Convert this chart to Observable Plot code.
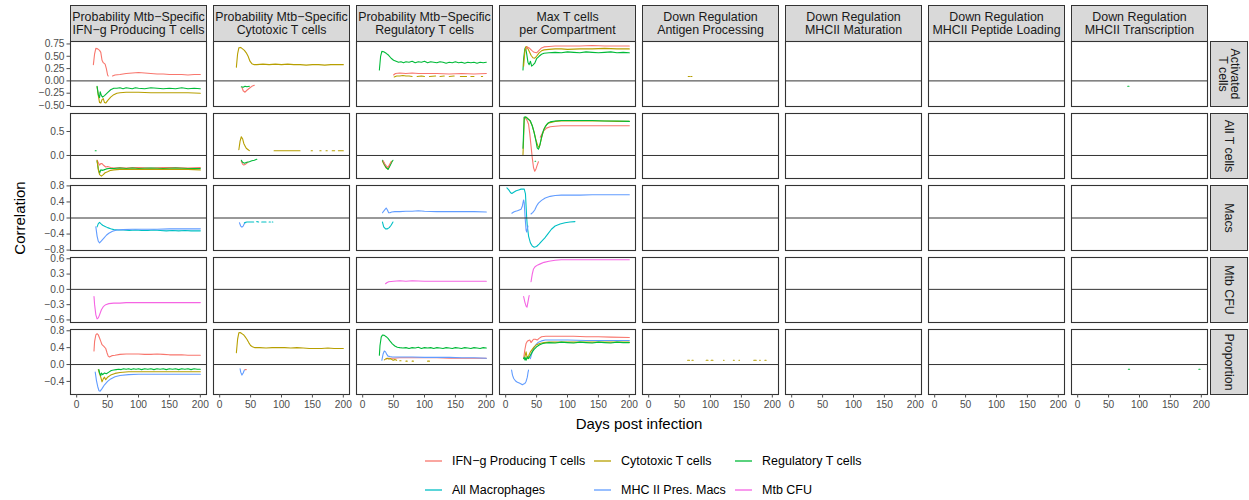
<!DOCTYPE html>
<html>
<head>
<meta charset="utf-8">
<script src="https://cdn.jsdelivr.net/npm/d3@7"></script>
<script src="https://cdn.jsdelivr.net/npm/@observablehq/plot@0.6"></script>
<style>
  body { margin: 0; background: #fff; font-family: "Liberation Sans", Arial, sans-serif; }
  #chart { position: relative; width: 1249px; height: 500px; overflow: hidden; }
  .abs { position: absolute; }
</style>
</head>
<body>
<div id="chart"></div>
<script>
// ---------- categories ----------
const columns = [
  "Probability Mtb−Specific\nIFN−g Producing T cells",
  "Probability Mtb−Specific\nCytotoxic T cells",
  "Probability Mtb−Specific\nRegulatory T cells",
  "Max T cells\nper Compartment",
  "Down Regulation\nAntigen Processing",
  "Down Regulation\nMHCII Maturation",
  "Down Regulation\nMHCII Peptide Loading",
  "Down Regulation\nMHCII Transcription"
];
const rows = ["Activated\nT cells", "All T cells", "Macs", "Mtb CFU", "Proportion"];
const seriesNames = ["IFN−g Producing T cells", "Cytotoxic T cells", "Regulatory T cells",
                     "All Macrophages", "MHC II Pres. Macs", "Mtb CFU"];
const seriesColors = ["#F8766D", "#B79F00", "#00BA38", "#00BFC4", "#619CFF", "#F564E3"];

// ---------- tick labels ----------
const xTicks = [0, 50, 100, 150, 200];
const yTicksActivated = [-0.5, -0.25, 0, 0.25, 0.5, 0.75];
const yTicksAllT = [0, 0.5];
const yTicksMacs = [-0.8, -0.4, 0, 0.4, 0.8];
const yTicksCFU = [-0.6, -0.3, 0, 0.3, 0.6];
const yTicksProp = [-0.4, 0, 0.4, 0.8];

// ---------- series values: [day, correlation] ----------
// Row: Activated T cells
const act_ifngP_ifng = [[27,0.33],[29,0.55],[31,0.66],[34,0.65],[37,0.62],[39,0.58],[41,0.42],[43,0.37],[46,0.34],[48,0.25],[50,0.12],[51,0.1],[54,null],[58,0.1],[62,0.12],[70,0.13],[80,0.15],[90,0.16],[100,0.17],[110,0.16],[120,0.15],[130,0.14],[140,0.14],[150,0.13],[160,0.13],[170,0.13],[180,0.12],[190,0.13],[200,0.13]];
const act_ifngP_cyto = [[33,-0.12],[35,-0.3],[37,-0.44],[39,-0.45],[41,-0.38],[43,-0.36],[45,-0.44],[47,-0.45],[50,-0.4],[55,-0.33],[60,-0.28],[65,-0.25],[70,-0.24],[80,-0.23],[90,-0.23],[100,-0.23],[120,-0.24],[140,-0.24],[160,-0.24],[180,-0.24],[200,-0.25]];
const act_ifngP_reg = [[33,-0.11],[35,-0.28],[37,-0.34],[38,-0.22],[40,-0.3],[42,-0.33],[45,-0.3],[50,-0.24],[55,-0.18],[60,-0.15],[65,-0.15],[70,-0.14],[75,-0.16],[80,-0.14],[85,-0.15],[90,-0.16],[95,-0.14],[100,-0.15],[110,-0.16],[120,-0.14],[130,-0.15],[140,-0.16],[150,-0.15],[160,-0.16],[170,-0.14],[180,-0.16],[190,-0.15],[200,-0.16]];
const act_cytoP_cyto = [[27,0.28],[29,0.55],[31,0.67],[34,0.68],[37,0.65],[40,0.62],[43,0.57],[46,0.5],[49,0.4],[52,0.35],[56,0.33],[60,0.33],[70,0.34],[80,0.33],[90,0.34],[100,0.33],[110,0.34],[120,0.33],[130,0.33],[140,0.32],[150,0.33],[160,0.33],[170,0.32],[180,0.33],[190,0.33],[200,0.33]];
const act_cytoP_ifng = [[36,-0.13],[38,-0.2],[41,-0.23],[44,-0.19],[48,-0.15],[52,-0.11],[56,-0.09]];
const act_cytoP_reg = [[35,-0.12],[38,-0.13],[41,-0.11],[44,-0.12],[48,-0.11]];
const act_regP_reg = [[27,0.22],[29,0.5],[31,0.6],[34,0.59],[38,0.56],[42,0.52],[46,0.46],[50,0.42],[54,0.4],[58,0.38],[62,0.39],[66,0.37],[70,0.39],[75,0.38],[80,0.4],[85,0.37],[90,0.39],[95,0.38],[100,0.4],[105,0.37],[110,0.39],[115,0.38],[120,0.37],[125,0.39],[130,0.38],[135,0.36],[140,0.38],[145,0.37],[150,0.39],[155,0.37],[160,0.38],[165,0.36],[170,0.38],[175,0.37],[180,0.38],[185,0.36],[190,0.38],[195,0.37],[200,0.38]];
const act_regP_ifng = [[50,0.12],[53,0.15],[60,0.16],[70,0.15],[80,0.16],[90,0.15],[100,0.15],[120,0.15],[140,0.14],[160,0.15],[180,0.14],[200,0.15]];
const act_regP_cyto = [[51,0.08],[55,0.1],[60,0.1],[65,0.11],[70,0.1],[75,0.1],[80,0.09],[85,null],[88,0.09],[95,0.1],[100,0.09],[105,null],[108,0.09],[118,0.1],[122,null],[125,0.09],[132,0.1],[136,null],[140,0.09],[148,0.1],[152,null],[158,0.09],[168,0.09],[172,null],[175,0.09],[180,0.09],[184,null],[192,0.09],[194,0.09]];
const act_max_reg = [[28,0.22],[29,0.45],[31,0.65],[32,0.68],[34,0.55],[36,0.38],[38,0.33],[40,0.4],[42,0.3],[44,0.32],[47,0.36],[50,0.45],[54,0.5],[58,0.54],[62,0.56],[70,0.57],[80,0.58],[90,0.57],[100,0.59],[110,0.58],[120,0.57],[130,0.59],[140,0.58],[150,0.57],[160,0.58],[170,0.59],[180,0.57],[190,0.58],[200,0.57]];
const act_max_cyto = [[29,0.3],[31,0.6],[33,0.7],[35,0.68],[38,0.6],[41,0.52],[44,0.47],[47,0.46],[50,0.5],[54,0.57],[58,0.61],[62,0.63],[70,0.64],[80,0.65],[90,0.65],[100,0.64],[120,0.65],[140,0.65],[160,0.66],[180,0.65],[200,0.65]];
const act_max_ifng = [[33,0.65],[35,0.69],[38,0.67],[42,0.62],[46,0.58],[50,0.57],[54,0.62],[58,0.67],[62,0.69],[70,0.7],[80,0.71],[90,0.71],[100,0.71],[120,0.71],[140,0.72],[160,0.71],[180,0.71],[200,0.71]];
const act_antigen_cyto = [[64,0.09],[66,0.09],[67,null],[68,0.09],[70,0.09]];
const act_transc_reg = [[81,-0.11],[83,-0.11]];

// Row: All T cells
const allT_ifngP_regDot = [[30,0.1],[31.5,0.1]];
const allT_ifngP_ifng = [[33,-0.1],[35,-0.15],[37,-0.2],[39,-0.17],[41,-0.17],[44,-0.21],[47,-0.24],[50,-0.23],[55,-0.25],[60,-0.26],[70,-0.25],[80,-0.26],[90,-0.25],[100,-0.25],[120,-0.26],[140,-0.25],[160,-0.25],[180,-0.26],[200,-0.25]];
const allT_ifngP_reg = [[33,-0.12],[35,-0.28],[37,-0.37],[39,-0.3],[41,-0.31],[44,-0.3],[48,-0.28],[52,-0.27],[60,-0.27],[70,-0.26],[80,-0.27],[90,-0.26],[100,-0.27],[120,-0.26],[140,-0.27],[160,-0.26],[180,-0.27],[200,-0.27]];
const allT_ifngP_cyto = [[33,-0.1],[35,-0.3],[37,-0.4],[40,-0.43],[43,-0.4],[46,-0.36],[50,-0.34],[55,-0.31],[60,-0.3],[70,-0.29],[80,-0.29],[100,-0.29],[120,-0.29],[140,-0.29],[160,-0.29],[180,-0.29],[200,-0.3]];
const allT_cytoP_cyto = [[31,0.12],[33,0.3],[35,0.39],[37,0.35],[39,0.25],[41,0.2],[43,0.15],[46,0.12],[48,0.1],[50,null],[88,0.1],[95,0.1],[105,0.1],[115,0.1],[125,0.1],[130,0.1],[132,null],[148,0.1],[150,0.1],[152,null],[162,0.1],[164,0.1],[166,null],[172,0.1],[174,0.1],[176,null],[182,0.1],[186,0.1],[188,null],[192,0.1],[200,0.1]];
const allT_cytoP_ifng = [[35,-0.12],[37,-0.18],[39,-0.2],[41,-0.19],[44,-0.16],[46,-0.14]];
const allT_cytoP_reg = [[35,-0.1],[37,-0.14],[40,-0.16],[44,-0.14],[48,-0.13],[52,-0.11],[56,-0.1],[60,-0.08]];
const allT_regP_reg = [[32,-0.1],[35,-0.18],[38,-0.25],[41,-0.29],[44,-0.22],[47,-0.14],[49,-0.1]];
const allT_regP_ifng = [[33,-0.11],[36,-0.18],[39,-0.23],[41,-0.25],[43,-0.2],[46,-0.13]];
const allT_regP_cyto = [[32,-0.12],[35,-0.2],[38,-0.26],[41,-0.28],[44,-0.2],[47,-0.12]];
const allT_max_reg = [[28,0.15],[29,0.5],[30,0.8],[33,0.8],[36,0.76],[40,0.72],[43,0.62],[46,0.48],[49,0.3],[51,0.16],[53,0.13],[55,0.2],[58,0.38],[61,0.52],[64,0.6],[68,0.67],[72,0.7],[80,0.72],[90,0.73],[100,0.73],[120,0.73],[140,0.73],[160,0.72],[180,0.72],[200,0.71]];
const allT_max_cyto = [[28,0.02],[29,0.35],[30,0.75],[32,0.8],[35,0.78],[39,0.73],[43,0.62],[46,0.48],[49,0.32],[52,0.2],[54,0.17],[56,0.25],[59,0.42],[62,0.55],[66,0.64],[70,0.68],[80,0.71],[90,0.72],[100,0.72],[120,0.72],[140,0.72],[160,0.72],[180,0.71],[200,0.71]];
const allT_max_ifng = [[29,0.78],[32,0.78],[35,0.72],[37,0.65],[39,0.45],[41,0.2],[43,-0.05],[45,-0.25],[47,-0.33],[49,-0.28],[51,-0.2],[53,-0.13],[54,null],[56,0.38],[59,0.46],[62,0.52],[66,0.57],[72,0.6],[80,0.61],[90,0.62],[100,0.62],[120,0.62],[140,0.62],[160,0.62],[180,0.62],[200,0.62]];
const allT_max_regDot = [[47.5,-0.12],[48.5,-0.12]];

// Row: Macs
const macs_ifngP_all = [[33,-0.22],[35,-0.14],[37,-0.11],[39,-0.14],[42,-0.18],[46,-0.21],[50,-0.24],[55,-0.27],[60,-0.29],[68,-0.3],[75,-0.3],[85,-0.31],[95,-0.3],[105,-0.31],[115,-0.31],[125,-0.3],[135,-0.31],[145,-0.32],[155,-0.31],[165,-0.32],[175,-0.31],[185,-0.32],[200,-0.32]];
const macs_ifngP_mhc = [[31,-0.22],[33,-0.45],[35,-0.58],[37,-0.62],[40,-0.57],[44,-0.5],[48,-0.43],[52,-0.38],[58,-0.33],[65,-0.3],[75,-0.29],[90,-0.28],[110,-0.28],[130,-0.28],[150,-0.27],[170,-0.27],[200,-0.27]];
const macs_cytoP_mhc = [[32,-0.12],[34,-0.2],[36,-0.23],[38,-0.2],[40,-0.14],[42,-0.11]];
const macs_cytoP_all = [[40,-0.12],[44,-0.1],[50,-0.1],[55,-0.1],[56,null],[60,-0.09],[63,-0.1],[64,null],[68,-0.1],[75,-0.1],[76,null],[80,-0.1],[82,-0.1],[84,null],[85,-0.1],[86,-0.1]];
const macs_regP_mhc = [[32,0.13],[35,0.19],[38,0.25],[40,0.2],[42,0.13],[44,0.13],[47,0.15],[52,0.16],[60,0.16],[70,0.17],[80,0.17],[90,0.18],[100,0.17],[120,0.16],[140,0.16],[160,0.16],[180,0.16],[200,0.15]];
const macs_regP_all = [[32,-0.1],[34,-0.22],[37,-0.27],[40,-0.27],[43,-0.24],[46,-0.18],[49,-0.1]];
const macs_max_all = [[2,0.75],[5,0.7],[8,0.63],[10,0.61],[13,0.64],[17,0.68],[21,0.7],[25,0.72],[30,0.72],[32,0.6],[33,0.3],[34,0.0],[35,-0.2],[37,-0.45],[40,-0.62],[43,-0.7],[46,-0.73],[50,-0.71],[54,-0.65],[58,-0.58],[63,-0.5],[68,-0.4],[74,-0.28],[80,-0.2],[88,-0.15],[96,-0.12],[104,-0.1],[112,-0.09]];
const macs_max_mhc = [[10,0.12],[13,0.15],[16,0.17],[19,0.18],[22,0.2],[25,0.22],[27,0.3],[29,0.45],[30,0.38],[31,0.12],[32,-0.1],[33,-0.3],[34,-0.35],[36,-0.2],[37,null],[41,0.1],[44,0.14],[47,0.2],[50,0.3],[53,0.37],[58,0.44],[64,0.5],[72,0.54],[80,0.56],[90,0.57],[100,0.57],[120,0.57],[140,0.58],[160,0.58],[180,0.58],[200,0.58]];

// Row: Mtb CFU
const cfu_ifngP_cfu = [[28,-0.14],[29,-0.3],[31,-0.5],[33,-0.58],[35,-0.56],[37,-0.5],[40,-0.4],[43,-0.34],[47,-0.3],[52,-0.28],[60,-0.27],[70,-0.27],[80,-0.26],[100,-0.26],[120,-0.26],[140,-0.26],[160,-0.26],[180,-0.26],[200,-0.26]];
const cfu_regP_cfu = [[37,0.11],[39,0.13],[42,0.15],[50,0.16],[60,0.17],[70,0.16],[80,0.17],[100,0.16],[120,0.16],[140,0.16],[160,0.16],[180,0.16],[200,0.16]];
const cfu_max_cfu = [[29,-0.14],[31,-0.25],[33,-0.33],[34.5,-0.35],[36,-0.25],[38,-0.12],[39,null],[41,0.15],[43,0.3],[45,0.4],[48,0.45],[52,0.48],[56,0.5],[62,0.53],[70,0.55],[80,0.57],[90,0.58],[100,0.58],[120,0.58],[140,0.58],[160,0.58],[180,0.58],[200,0.58]];

// Row: Proportion
const prop_ifngP_ifng = [[28,0.32],[29,0.55],[31,0.7],[33,0.73],[35,0.7],[37,0.63],[39,0.55],[41,0.47],[44,0.43],[47,0.38],[49,0.28],[51,0.2],[53,0.18],[57,0.21],[62,0.22],[70,0.24],[80,0.25],[90,0.25],[100,0.25],[110,0.24],[120,0.24],[130,0.25],[140,0.24],[150,0.23],[160,0.23],[170,0.23],[180,0.22],[190,0.22],[200,0.22]];
const prop_ifngP_mhc = [[30,-0.18],[32,-0.38],[34,-0.52],[36,-0.62],[38,-0.63],[41,-0.57],[45,-0.48],[50,-0.4],[55,-0.34],[62,-0.29],[70,-0.26],[84,-0.24],[100,-0.23],[120,-0.23],[140,-0.23],[160,-0.23],[180,-0.23],[200,-0.23]];
const prop_ifngP_cyto = [[35,-0.12],[37,-0.22],[39,-0.3],[41,-0.41],[43,-0.34],[45,-0.3],[47,-0.36],[50,-0.3],[55,-0.25],[62,-0.21],[70,-0.19],[84,-0.17],[100,-0.17],[120,-0.17],[140,-0.17],[160,-0.17],[180,-0.17],[200,-0.17]];
const prop_ifngP_reg = [[36,-0.12],[37,-0.2],[39,-0.26],[40,-0.2],[42,-0.24],[45,-0.2],[48,-0.22],[52,-0.18],[56,-0.14],[60,-0.13],[64,-0.12],[68,-0.11],[72,-0.12],[76,-0.1],[80,-0.11],[84,-0.1],[88,-0.12],[92,-0.1],[96,-0.11],[100,-0.1],[105,-0.12],[110,-0.1],[115,-0.11],[120,-0.1],[125,-0.12],[130,-0.1],[135,-0.11],[140,-0.1],[145,-0.12],[150,-0.1],[155,-0.11],[160,-0.1],[165,-0.12],[170,-0.1],[175,-0.11],[180,-0.1],[185,-0.12],[190,-0.1],[195,-0.11],[200,-0.11]];
const prop_cytoP_cyto = [[27,0.28],[29,0.6],[31,0.75],[33,0.76],[35,0.74],[37,0.72],[39,0.7],[41,0.66],[44,0.6],[47,0.52],[50,0.45],[53,0.42],[57,0.4],[65,0.4],[75,0.39],[85,0.4],[95,0.4],[105,0.4],[115,0.39],[125,0.4],[135,0.39],[145,0.38],[155,0.38],[165,0.38],[175,0.39],[185,0.38],[200,0.38]];
const prop_cytoP_mhc = [[33,-0.1],[34,-0.18],[36,-0.25],[38,-0.2],[40,-0.13]];
const prop_cytoP_ifng = [[41,-0.12],[43,-0.12]];
const prop_regP_reg = [[27,0.22],[28,0.45],[30,0.65],[32,0.7],[35,0.69],[38,0.66],[41,0.62],[44,0.56],[48,0.49],[52,0.44],[56,0.41],[60,0.4],[65,0.39],[70,0.4],[75,0.38],[80,0.4],[85,0.39],[90,0.41],[95,0.38],[100,0.4],[105,0.39],[110,0.4],[115,0.38],[120,0.4],[125,0.39],[130,0.38],[135,0.4],[140,0.39],[145,0.38],[150,0.4],[155,0.39],[160,0.38],[165,0.4],[170,0.39],[175,0.38],[180,0.4],[185,0.39],[190,0.38],[195,0.4],[200,0.39]];
const prop_regP_ifng = [[38,0.13],[42,0.15],[50,0.15],[60,0.16],[80,0.16],[100,0.16],[120,0.16],[140,0.15],[160,0.15],[180,0.15],[200,0.15]];
const prop_regP_mhc = [[31,0.1],[33,0.25],[35,0.32],[37,0.3],[39,0.24],[41,0.2],[44,0.19],[48,0.18],[55,0.18],[65,0.18],[80,0.18],[100,0.17],[120,0.17],[140,0.17],[160,0.16],[180,0.16],[200,0.15]];
const prop_regP_cyto = [[35,0.11],[38,0.14],[40,0.15],[42,0.13],[45,0.14],[48,0.11],[50,0.1],[52,0.12],[55,0.1],[57,null],[60,0.09],[62,0.09],[63,null],[70,0.08],[72,0.08],[73,null],[80,0.08],[82,0.08],[83,null],[105,0.08],[108,0.08]];
const prop_max_ifng = [[29,0.14],[31,0.35],[33,0.5],[35,0.55],[37,0.57],[39,0.58],[41,0.52],[43,0.56],[45,0.6],[48,0.6],[51,0.58],[54,0.62],[58,0.66],[65,0.67],[75,0.67],[90,0.67],[110,0.67],[130,0.66],[150,0.66],[170,0.65],[200,0.64]];
const prop_max_mhc = [[9.5,-0.13],[11,-0.25],[13,-0.33],[16,-0.39],[19,-0.42],[22,-0.44],[25,-0.46],[27,-0.48],[29,-0.46],[31,-0.45],[33,-0.4],[35,-0.3],[36,-0.2],[37,-0.13],[38,null],[40,0.14],[42,0.25],[45,0.38],[49,0.47],[53,0.53],[58,0.56],[64,0.58],[80,0.58],[100,0.58],[130,0.57],[160,0.57],[200,0.57]];
const prop_max_cyto = [[31,0.18],[33,0.3],[34,0.22],[35,0.14],[37,0.2],[40,0.3],[43,0.36],[46,0.42],[50,0.47],[55,0.5],[62,0.52],[70,0.53],[90,0.53],[110,0.53],[140,0.53],[170,0.53],[200,0.53]];
const prop_max_reg = [[29,0.14],[30,0.17],[31,0.11],[32,0.16],[33,0.1],[35,0.18],[37,0.14],[40,0.22],[43,0.3],[46,0.36],[50,0.42],[55,0.47],[60,0.5],[65,0.51],[70,0.52],[80,0.51],[90,0.53],[100,0.52],[110,0.51],[120,0.53],[130,0.52],[140,0.51],[150,0.53],[160,0.52],[170,0.51],[180,0.53],[190,0.52],[200,0.52]];
const prop_antigen_cyto = [[63,0.1],[66,0.1],[67,null],[70,0.1],[72,0.1],[73,null],[93,0.1],[96,0.1],[97,null],[101,0.1],[104,0.1],[105,null],[121,0.1],[122,0.1],[123,null],[137,0.1],[138.5,0.1],[139,null],[146,0.1],[147,0.1],[148,null],[170,0.1],[174,0.1],[175,null],[179.5,0.1],[180.5,0.1],[181,null],[188,0.1],[190,0.1]];
const prop_transc_reg = [[82,-0.11],[84,-0.11],[85,null],[196,-0.11],[198,-0.11]];

// table: [row index, column index, series index, values]
const traces = [
  [0,0,0,act_ifngP_ifng],[0,0,1,act_ifngP_cyto],[0,0,2,act_ifngP_reg],
  [0,1,1,act_cytoP_cyto],[0,1,0,act_cytoP_ifng],[0,1,2,act_cytoP_reg],
  [0,2,2,act_regP_reg],[0,2,0,act_regP_ifng],[0,2,1,act_regP_cyto],
  [0,3,2,act_max_reg],[0,3,1,act_max_cyto],[0,3,0,act_max_ifng],
  [0,4,1,act_antigen_cyto],[0,7,2,act_transc_reg],
  [1,0,2,allT_ifngP_regDot],[1,0,0,allT_ifngP_ifng],[1,0,2,allT_ifngP_reg],[1,0,1,allT_ifngP_cyto],
  [1,1,1,allT_cytoP_cyto],[1,1,0,allT_cytoP_ifng],[1,1,2,allT_cytoP_reg],
  [1,2,1,allT_regP_cyto],[1,2,2,allT_regP_reg],[1,2,0,allT_regP_ifng],
  [1,3,0,allT_max_ifng],[1,3,1,allT_max_cyto],[1,3,2,allT_max_reg],[1,3,2,allT_max_regDot],
  [2,0,3,macs_ifngP_all],[2,0,4,macs_ifngP_mhc],
  [2,1,4,macs_cytoP_mhc],[2,1,3,macs_cytoP_all],
  [2,2,4,macs_regP_mhc],[2,2,3,macs_regP_all],
  [2,3,3,macs_max_all],[2,3,4,macs_max_mhc],
  [3,0,5,cfu_ifngP_cfu],[3,2,5,cfu_regP_cfu],[3,3,5,cfu_max_cfu],
  [4,0,0,prop_ifngP_ifng],[4,0,4,prop_ifngP_mhc],[4,0,1,prop_ifngP_cyto],[4,0,2,prop_ifngP_reg],
  [4,1,1,prop_cytoP_cyto],[4,1,4,prop_cytoP_mhc],[4,1,0,prop_cytoP_ifng],
  [4,2,2,prop_regP_reg],[4,2,0,prop_regP_ifng],[4,2,4,prop_regP_mhc],[4,2,1,prop_regP_cyto],
  [4,3,0,prop_max_ifng],[4,3,4,prop_max_mhc],[4,3,1,prop_max_cyto],[4,3,2,prop_max_reg],
  [4,4,1,prop_antigen_cyto],[4,7,2,prop_transc_reg]
];

const data = traces.flatMap(([r, c, s, pts], k) =>
  pts.map(([day, value]) => ({row: rows[r], col: columns[c], series: seriesNames[s], trace: k, day, value})));

// ---------- layout ----------
const W = 1249;
const ML = 68, MR = 39;
const panelH = 65, rowStep = 72, firstTop = 41;
const fxPad = 0.047;
const yTicks = [yTicksActivated, yTicksAllT, yTicksMacs, yTicksCFU, yTicksProp];
const yDomains = [[-0.52, 0.80], [-0.48, 0.875], [-0.81, 0.81], [-0.65, 0.625], [-0.71, 0.83]];
const yFormats = [d3.format(".2f"), d3.format(".1f"), d3.format(".1f"), d3.format(".1f"), d3.format(".1f")];
const font = "'Liberation Sans', Arial, sans-serif";
const baseStyle = {fontFamily: font, background: "transparent", overflow: "visible"};

const chart = document.getElementById("chart");
function place(el, left, top) {
  const d = document.createElement("div");
  d.className = "abs";
  d.style.left = left + "px";
  d.style.top = top + "px";
  d.appendChild(el);
  chart.appendChild(d);
  return d;
}

// column strips
place(Plot.plot({
  width: W, height: 38, marginLeft: ML, marginRight: MR, marginTop: 1, marginBottom: 1,
  style: baseStyle,
  fx: {domain: columns, paddingInner: fxPad, paddingOuter: 0, axis: null},
  marks: [
    Plot.frame({fill: "#D9D9D9", stroke: "#333333", strokeWidth: 1}),
    Plot.text(columns, {fx: d => d, text: d => d, frameAnchor: "middle", fontSize: 12.4, fill: "#1A1A1A", lineHeight: 1.06})
  ]
}), 0, 4);

// row panels
rows.forEach((rowName, r) => {
  const last = r === rows.length - 1;
  const mb = last ? 30 : 2;
  const marks = [
    Plot.line(data.filter(d => d.row === rowName), {
      fx: "col", x: "day", y: "value", z: "trace", stroke: "series", strokeWidth: 1.1
    }),
    // zero reference line, one per column (keeps every facet present)
    Plot.ruleY(columns, {fx: d => d, y: () => 0, stroke: "#333333", strokeWidth: 1}),
    Plot.frame({stroke: "#333333", strokeWidth: 1.1}),
    Plot.axisY({ticks: yTicks[r], tickFormat: yFormats[r], tickSize: 3.5, tickPadding: 2.5,
                fontSize: 10.2, color: "#4D4D4D", label: null})
  ];
  if (last) marks.push(Plot.axisX({ticks: xTicks, tickSize: 3.5, tickPadding: 2.5, fontSize: 10.2,
                                   color: "#4D4D4D", label: null}));
  const opts = {
    width: W, height: panelH + 2 + mb, marginLeft: ML, marginRight: MR, marginTop: 2, marginBottom: mb,
    style: baseStyle,
    fx: {domain: columns, paddingInner: fxPad, paddingOuter: 0, axis: null},
    x: {domain: [-10, 210]},
    y: {domain: yDomains[r]},
    color: {domain: seriesNames, range: seriesColors},
    marks
  };
  if (!last) opts.x.axis = null;
  place(Plot.plot(opts), 0, firstTop + rowStep * r - 2);
});

// row strips (right)
place(Plot.plot({
  width: 39, height: rowStep * 4 + panelH + 2, marginLeft: 1, marginRight: 1, marginTop: 1, marginBottom: 1,
  style: baseStyle,
  fy: {domain: rows, paddingInner: (rowStep - panelH) / rowStep, paddingOuter: 0, axis: null},
  marks: [
    Plot.frame({fill: "#D9D9D9", stroke: "#333333", strokeWidth: 1}),
    Plot.text(rows, {fy: d => d, text: d => d, frameAnchor: "middle", rotate: 90, fontSize: 12.4, fill: "#1A1A1A", lineHeight: 1.0})
  ]
}), W - MR - 1, firstTop - 1);

// axis titles
const yTitle = document.createElement("div");
yTitle.textContent = "Correlation";
yTitle.style.cssText = `font-family:${font};font-size:15px;color:#000;transform:translate(-50%,-50%) rotate(-90deg);white-space:nowrap;`;
place(yTitle, 19, 218);

const xTitle = document.createElement("div");
xTitle.textContent = "Days post infection";
xTitle.style.cssText = `font-family:${font};font-size:15px;color:#000;transform:translate(-50%,-50%);white-space:nowrap;`;
place(xTitle, 639, 423);

// legend
const legendCols = [425, 594, 735];
const legendRows = [461, 490];
seriesNames.forEach((name, i) => {
  const item = document.createElement("div");
  item.style.cssText = `display:flex;align-items:center;height:16px;font-family:${font};font-size:12.5px;color:#000;white-space:nowrap;`;
  item.innerHTML = `<svg width="17" height="16" style="display:block"><line x1="0" x2="17" y1="8" y2="8" stroke="${seriesColors[i]}" stroke-width="1.3"/></svg><span style="margin-left:10px">${name}</span>`;
  place(item, legendCols[i % 3], legendRows[Math.floor(i / 3)] - 8);
});
</script>
</body>
</html>
